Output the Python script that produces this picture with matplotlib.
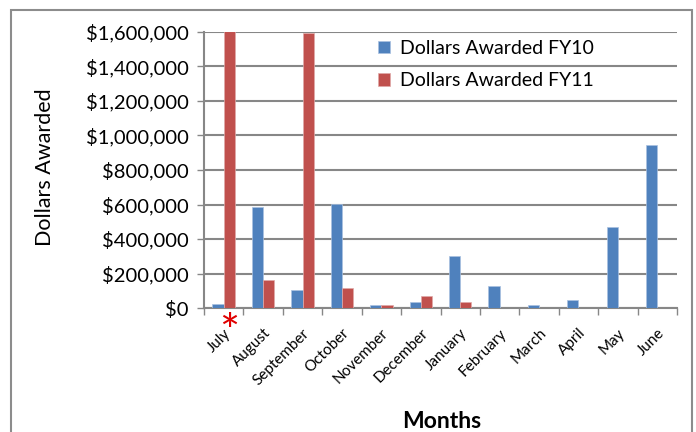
import numpy as np
import matplotlib.pyplot as plt
from matplotlib.patches import Rectangle
from matplotlib.ticker import FuncFormatter

# data
months = ['July', 'August', 'September', 'October', 'November', 'December',
          'January', 'February', 'March', 'April', 'May', 'June']
fy10 = [25000, 584000, 104000, 605000, 16000, 37000,
        300000, 128000, 16000, 48000, 470000, 947000]
fy11 = [1620000, 162000, 1595000, 116000, 15000, 71000,
        37000, 0, 0, 0, 0, 0]
yticks = np.arange(0, 1600001, 200000)

plt.rcParams['font.family'] = ['Lato', 'DejaVu Sans']

blue = '#4F81BD'
red = '#C0504D'
grid_col = '#878787'

fig = plt.figure(figsize=(6.96, 4.32), dpi=100)
ax = fig.add_axes((204 / 696, 1 - 308 / 432, 473 / 696, 276 / 432))

x = np.arange(len(months))
w = 0.286
ax.bar(x - w / 2, fy10, w, color=blue, edgecolor='#a9c1e0', linewidth=0.5,
       label='Dollars Awarded FY10', zorder=3)
ax.bar(x + w / 2, fy11, w, color=red, edgecolor='#e0a9a8', linewidth=0.5,
       label='Dollars Awarded FY11', zorder=3)

ax.set_ylim(0, 1600000)
ax.set_xlim(-0.5, len(months) - 0.5)
ax.set_yticks(yticks)
ax.yaxis.set_major_formatter(FuncFormatter(lambda v, p: '${:,.0f}'.format(v)))
ax.tick_params(axis='y', labelsize=14.5, length=5, color=grid_col, width=1, pad=6)
ax.yaxis.grid(True, color=grid_col, linewidth=1.5, zorder=0)
ax.set_axisbelow(True)

ax.set_xticks(x)
ax.set_xticklabels(months, rotation=45, ha='right', va='top',
                   rotation_mode='anchor', fontsize=11)
ax.tick_params(axis='x', which='major', length=0, pad=13)
ax.set_xticks(np.arange(-0.5, len(months)), minor=True)
ax.tick_params(axis='x', which='minor', length=5, color=grid_col, width=1)

for s in ['top', 'right']:
    ax.spines[s].set_visible(False)
for s in ['left', 'bottom']:
    ax.spines[s].set_color(grid_col)
    ax.spines[s].set_linewidth(1.5)

leg = ax.legend(loc='upper left', bbox_to_anchor=(0.33, 1.035), frameon=False,
                fontsize=14, handlelength=0.65, handleheight=0.65,
                handletextpad=0.5, labelspacing=0.8)

# red asterisk under July FY11 bar
ax.annotate('*', xy=(0 + w / 2, 0), xycoords=('data', 'axes fraction'),
            xytext=(0, -34), textcoords='offset points', ha='center', va='bottom',
            color='#e00000', fontsize=34, annotation_clip=False)

fig.text(45 / 696, 1 - 167 / 432, 'Dollars Awarded', rotation=90,
         ha='center', va='center', fontsize=15.5)
fig.text(442 / 696, 1 - 421 / 432, 'Months', ha='center', va='center',
         fontsize=16.5, fontweight='bold')

fig.patches.append(Rectangle((11 / 696, -0.1), 681 / 696, 1.1 - 10 / 432,
                             transform=fig.transFigure, fill=False,
                             edgecolor='#8c8c8c', linewidth=1.5))

plt.savefig('out.png', dpi=100)
